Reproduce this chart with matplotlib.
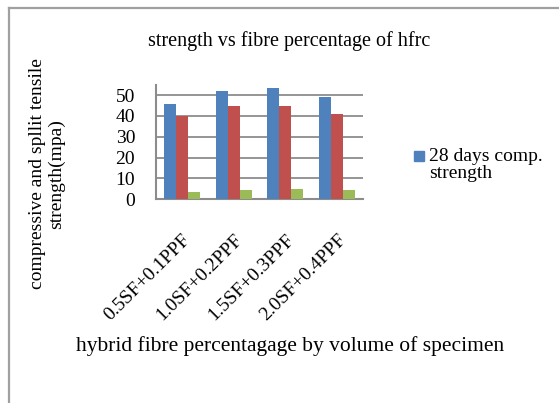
import matplotlib
matplotlib.use("Agg")
import matplotlib.pyplot as plt
import numpy as np
from matplotlib.lines import Line2D

categories = ["0.5SF+0.1PPF", "1.0SF+0.2PPF", "1.5SF+0.3PPF", "2.0SF+0.4PPF"]
comp_28 = [45.8, 52.0, 53.5, 49.2]
split_28 = [39.7, 44.8, 44.8, 41.0]
flex_28 = [3.5, 4.4, 5.1, 4.4]
yticks = [0, 10, 20, 30, 40, 50]

plt.rcParams['font.family'] = ['Liberation Serif', 'DejaVu Serif']

W, H = 559, 403
fig = plt.figure(figsize=(W / 100, H / 100), dpi=100)

def fx(px):
    return px / W

def fy(py):
    return 1 - py / H

# axes spanning pixel x 156..363, y 85..199.3
ax = fig.add_axes([fx(156), fy(199.3), fx(363) - fx(156), fy(85) - fy(199.3)])

x = np.arange(len(categories))
bw = 0.232
ax.bar(x - bw, comp_28, bw, color="#4F81BD", zorder=3)
ax.bar(x, split_28, bw, color="#C0504D", zorder=3)
ax.bar(x + bw, flex_28, bw, color="#9BBB59", zorder=3)

ax.set_xlim(-0.5, len(categories) - 0.5)
ax.set_ylim(0, 54.8)
ax.set_yticks(yticks)
ax.set_yticklabels([str(v) for v in yticks], fontsize=14)
ax.yaxis.grid(True, color="#8c8c8c", linewidth=1.3, zorder=0)
ax.set_xticks(x)
ax.set_xticklabels(categories, rotation=45, ha="right", va="top",
                   rotation_mode="anchor", fontsize=14)
ax.tick_params(axis="y", length=0, pad=15)
ax.tick_params(axis="x", length=0, pad=23)
for s in ["top", "right"]:
    ax.spines[s].set_visible(False)
ax.spines["left"].set_color("#8c8c8c")
ax.spines["bottom"].set_color("#8c8c8c")
ax.spines["left"].set_linewidth(1.5)
ax.spines["bottom"].set_linewidth(1.5)

fig.text(fx(289), fy(41), "strength vs fibre percentage of hfrc",
         ha="center", va="center", fontsize=14.5)
fig.text(fx(290), fy(346), "hybrid fibre percentagage by volume of specimen",
         ha="center", va="center", fontsize=15.5)
fig.text(fx(47), fy(174), "compressive and spllit tensile\nstrength(mpa)",
         ha="center", va="center", rotation=90, fontsize=14,
         multialignment="center", linespacing=1.1)

# legend
fig.patches.append(plt.Rectangle((fx(414), fy(161)), 10 / W, 10 / H,
                                 transform=fig.transFigure, color="#4F81BD"))
fig.text(fx(429), fy(160.5), "28 days comp.", ha="left", va="baseline", fontsize=14)
fig.text(fx(429), fy(178), "strength", ha="left", va="baseline", fontsize=14)

# partial frame (top and left)
fig.add_artist(Line2D([fx(9), fx(559)], [fy(8), fy(8)], transform=fig.transFigure,
                      color="#a0a0a0", linewidth=1.6))
fig.add_artist(Line2D([fx(9), fx(9)], [fy(8), fy(403)], transform=fig.transFigure,
                      color="#a0a0a0", linewidth=1.6))

fig.savefig("out.png", dpi=100)
